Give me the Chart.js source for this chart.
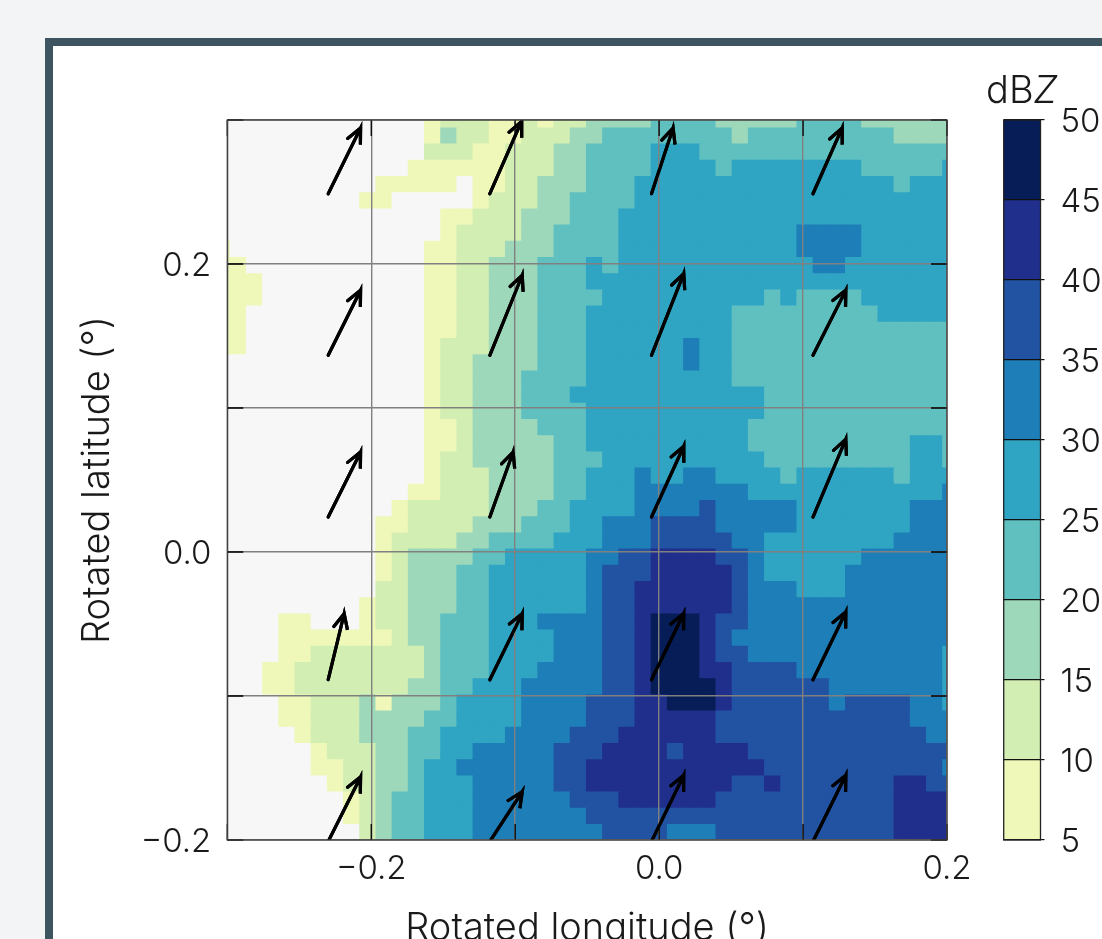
<!DOCTYPE html>
<html lang="en">
<head>
<meta charset="UTF-8" />
<title>Rotated radar reflectivity</title>
<style>
  html, body { margin: 0; height: 100%; overflow: hidden; background: #f3f4f6; }
  #card {
    position: absolute; left: 45px; top: 38px; width: 1200px; height: 1100px;
    background: #fff; border: 8px solid #3e5561;
  }
  canvas { position: absolute; }
  #rainChart { left: 60px; top: 90px; }
  #barChart { left: 995px; top: 100px; }
  #barTitle {
    position: absolute; left: 986px; top: 69px;
    font: 300 38px Inter, sans-serif; color: #1a1a1a; line-height: 40px;
  }
</style>
</head>
<body>
<div id="card"></div>
<canvas id="rainChart" width="925" height="870"></canvas>
<canvas id="barChart" width="107" height="760"></canvas>
<div id="barTitle">dB<i>Z</i></div>

<script src="https://cdn.jsdelivr.net/npm/chart.js"></script>
<script>
  // Colour per level: 0 is below 5 dBZ, then one level per 5 dBZ band
  const levelColors = ['#f7f7f7', '#eff8b8', '#d3eeb3', '#9ed8bb', '#60c0c0', '#2fa5c3', '#1e7eb8', '#2253a3', '#212f8c', '#061d58'];
  const barLevels = [5, 10, 15, 20, 25, 30, 35, 40, 45, 50];

  // Level per cell, top row first, one digit per column
  const cellRows = [
    '0000000000000 1222112122 33334444333334444333333',
    '0000000000000 1322112223 34444444434444444443333',
    '0000000000000 2221122233 44445554444444444444444',
    '0000000000001 1111122233 44445555455555555444445',
    '0000000000111 1101122333 44455555555555555554555',
    '0000000001100 0001222334 44455555555555555555555',
    '0000000000000 0112223334 44555555555555555555555',
    '0000000000000 0122223344 44555555555556666555555',
    '1000000000000 1122233344 44555555555556666555555',
    '1100000000000 1122333444 54555555555555665555555',
    '1110000000000 1122333444 55555555555555555555555',
    '1110000000000 1122333444 45555555555454444555555',
    '1100000000000 1122333444 55555555544444444455555',
    '1100000000000 1122333444 55555555544444444444444',
    '1100000000000 1222333444 55555565544444444444444',
    '0000000000000 1223333444 55555565544444444444444',
    '0000000000000 1223334444 55555555544444444444444',
    '0000000000000 1223334445 55555555555444444444444',
    '0000000000000 1223334444 55555555555444444444444',
    '0000000000000 1123333444 55555555554444444444444',
    '0000000000000 1123333344 55555555554444444444554',
    '0000000000000 1223333344 45555555555444444444554',
    '0000000000000 1222333344 55565566555545555554555',
    '0000000000001 1222333344 55566666665555555555556',
    '0000000000012 2222333445 55566667666665555555666',
    '0000000000112 2223334445 56667777666665555555666',
    '0000000000122 2233444455 56667777766555555556666',
    '0000000000123 3334455555 66778888776555555666666',
    '0000000000123 3344555555 67778888876555556666666',
    '0000000000223 3344555555 67788888876665556666666',
    '0000000001223 3344555555 67788888876666666666666',
    '0000110001223 3444555666 67789998776666666666666',
    '0000111111123 3444555566 67789998766666666666666',
    '0000112222222 3444555566 67789998776666666666665',
    '0001122222222 3444555666 67789998877776666666665',
    '0001122222223 3445556666 67789999877777766666665',
    '0000112223133 3455556666 77788999877777767777665',
    '0000112223333 4455556666 77788888777777777777666',
    '0000012223334 4555566667 77888888777777777777766',
    '0000001222334 4556666677 78888788887777777777777',
    '0000001122334 5566666677 88888888888777777777776',
    '0000000122334 5556666677 88888888877877777778877',
    '0000000012344 5556666667 77888888777777777778888',
    '0000000012344 5556666666 77777777777777777778888',
    '0000000002344 5556666666 67777666777777777778888'
  ];

  // Grid of the cells in degrees: left edge of column 0, top edge of row 0, cell size
  const gridLeft = -0.30917;
  const gridTop = 0.30569;
  const cellSize = 0.01125;

  // Wind arrows, one row of four per latitude
  const tailX = [-0.2299, -0.1176, -0.0053, 0.1069];
  const tailY = [0.2488, 0.1366, 0.0243, -0.0887, -0.2010];
  const tipX = [
    [-0.2074, -0.0956, 0.0097, 0.1271],
    [-0.2074, -0.0951, 0.0171, 0.1297],
    [-0.2074, -0.1014, 0.0171, 0.1297],
    [-0.2188, -0.0951, 0.0171, 0.1297],
    [-0.2074, -0.0951, 0.0171, 0.1297]
  ];
  const tipY = [
    [0.2944, 0.2991, 0.2944, 0.2944],
    [0.1817, 0.1922, 0.1933, 0.1817],
    [0.0694, 0.0694, 0.0734, 0.0783],
    [-0.0428, -0.0428, -0.0428, -0.0417],
    [-0.1563, -0.1665, -0.1551, -0.1551]
  ];

  const labelledTicks = [-0.2, 0, 0.2];
  const xTitle = 'Rotated longitude (\u00b0)';
  const yTitle = 'Rotated latitude (\u00b0)';

  const textColor = '#1a1a1a';
  const tickFont = { family: 'Inter', size: 33, weight: '300' };
  const titleFont = { family: 'Inter', size: 38, weight: '300' };

  function tickText(value) {
    if (!labelledTicks.some(t => Math.abs(t - value) < 1e-6)) return '';
    const s = Math.abs(value).toFixed(1);
    return value < -1e-6 ? '\u2212' + s : s;
  }

  // The plot edges are fixed, so labels may overhang them
  function noPadding(scale) {
    scale.paddingLeft = 0;
    scale.paddingRight = 0;
    scale.paddingTop = 0;
    scale.paddingBottom = 0;
  }

  // Build the cell bars
  const cellData = [];
  const cellColors = [];
  cellRows.forEach((text, r) => {
    const row = text.replace(/ /g, '');
    for (let c = 0; c < row.length; c++) {
      cellData.push({
        x: gridLeft + (c + 0.5) * cellSize,
        y: [gridTop - (r + 1) * cellSize, gridTop - r * cellSize]
      });
      cellColors.push(levelColors[Number(row[c])]);
    }
  });

  // One polyline per arrow: tail, tip, one barb, tip, other barb
  function arrowPoints(x0, y0, x1, y1) {
    const len = Math.hypot(x0 - x1, y0 - y1);
    const bx = (x0 - x1) / len, by = (y0 - y1) / len;
    const barb = sign => {
      const a = sign * 25 * Math.PI / 180;
      return {
        x: x1 + 0.0115 * (bx * Math.cos(a) - by * Math.sin(a)),
        y: y1 + 0.0115 * (bx * Math.sin(a) + by * Math.cos(a))
      };
    };
    return [{ x: x0, y: y0 }, { x: x1, y: y1 }, barb(1), { x: x1, y: y1 }, barb(-1)];
  }

  const arrowSets = [];
  tailY.forEach((ty, r) => {
    tailX.forEach((tx, c) => {
      arrowSets.push({
        type: 'scatter',
        showLine: true,
        data: arrowPoints(tx, ty, tipX[r][c], tipY[r][c]),
        borderColor: '#000',
        borderWidth: 3.2,
        borderCapStyle: 'round',
        borderJoinStyle: 'miter',
        pointRadius: 0,
        order: 0
      });
    });
  });

  // Arrows over the grid, then inward ticks and the frame
  const overlayPlugin = {
    id: 'overlay',
    afterDraw(chart) {
      const { ctx, chartArea: a, scales } = chart;
      ctx.save();
      ctx.beginPath();
      ctx.rect(a.left, a.top, a.width, a.height);
      ctx.clip();
      chart.getSortedVisibleDatasetMetas().forEach(meta => {
        if (meta.type === 'scatter') meta.controller.draw();
      });
      ctx.restore();

      ctx.save();
      ctx.strokeStyle = '#000';
      ctx.lineWidth = 1.3;
      ctx.beginPath();
      scales.x.ticks.forEach(t => {
        const px = scales.x.getPixelForValue(t.value);
        ctx.moveTo(px, a.top); ctx.lineTo(px, a.top + 16);
        ctx.moveTo(px, a.bottom); ctx.lineTo(px, a.bottom - 16);
      });
      scales.y.ticks.forEach(t => {
        const py = scales.y.getPixelForValue(t.value);
        ctx.moveTo(a.left, py); ctx.lineTo(a.left + 16, py);
        ctx.moveTo(a.right, py); ctx.lineTo(a.right - 16, py);
      });
      ctx.stroke();
      ctx.strokeStyle = '#404040';
      ctx.strokeRect(a.left, a.top, a.width, a.height);
      ctx.restore();
    }
  };

  new Chart(document.getElementById('rainChart'), {
    data: {
      datasets: [
        ...arrowSets,
        {
          type: 'bar',
          data: cellData,
          backgroundColor: cellColors,
          borderWidth: 0,
          inflateAmount: 0.6,
          barThickness: 16.2,
          grouped: false,
          order: 1
        }
      ]
    },
    options: {
      responsive: false,
      animation: false,
      layout: { padding: { top: 30, right: 38, left: 0, bottom: 0 } },
      plugins: { legend: { display: false }, tooltip: { enabled: false } },
      scales: {
        x: {
          type: 'linear',
          min: -0.3,
          max: 0.2,
          offset: false,
          afterFit(scale) { scale.height = 120; noPadding(scale); },
          border: { display: false },
          grid: { color: '#808080', lineWidth: 1.4, z: 1, drawTicks: false, offset: false },
          ticks: {
            stepSize: 0.1,
            autoSkip: false,
            maxRotation: 0,
            padding: 9,
            color: textColor,
            font: tickFont,
            callback: tickText
          },
          title: { display: true, text: xTitle, color: textColor, font: titleFont, padding: { top: 0, bottom: 9 } }
        },
        y: {
          type: 'linear',
          min: -0.2,
          max: 0.3,
          afterFit(scale) { scale.width = 167.3; noPadding(scale); },
          border: { display: false },
          grid: { color: '#808080', lineWidth: 1.4, z: 1, drawTicks: false },
          ticks: {
            stepSize: 0.1,
            autoSkip: false,
            padding: 16,
            labelOffset: 2,
            color: textColor,
            font: tickFont,
            callback: tickText
          },
          title: { display: true, text: yTitle, color: textColor, font: titleFont, padding: { top: 15, bottom: 0 } }
        }
      }
    },
    plugins: [overlayPlugin]
  });

  // Colour bar, one floating bar per band
  const barFrame = {
    id: 'barFrame',
    afterDraw(chart) {
      const { ctx, chartArea: a } = chart;
      ctx.save();
      ctx.strokeStyle = '#222';
      ctx.lineWidth = 1.3;
      ctx.strokeRect(a.left, a.top, a.width, a.height);
      ctx.restore();
    }
  };

  new Chart(document.getElementById('barChart'), {
    type: 'bar',
    data: {
      labels: ['dBZ'],
      datasets: levelColors.slice(1).map((color, i) => ({
        data: [[barLevels[i], barLevels[i + 1]]],
        backgroundColor: color,
        borderWidth: 0,
        grouped: false,
        categoryPercentage: 1,
        barPercentage: 1
      }))
    },
    options: {
      responsive: false,
      animation: false,
      layout: { padding: { top: 20, left: 8.7, right: 0, bottom: 20 } },
      plugins: { legend: { display: false }, tooltip: { enabled: false } },
      scales: {
        x: { display: false },
        y: {
          position: 'right',
          min: 5,
          max: 50,
          afterFit(scale) { scale.width = 61.5; noPadding(scale); },
          border: { display: false },
          grid: { color: '#111', lineWidth: 1.2, z: 1, tickLength: 4 },
          ticks: {
            stepSize: 5,
            autoSkip: false,
            padding: 16,
            labelOffset: 2,
            color: textColor,
            font: tickFont
          }
        }
      }
    },
    plugins: [barFrame]
  });
</script>
</body>
</html>
